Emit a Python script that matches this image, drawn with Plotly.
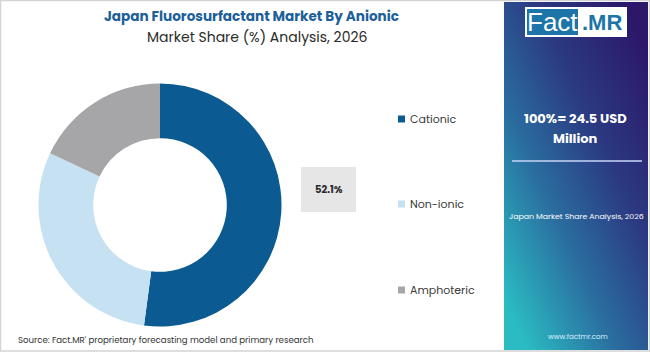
import base64
import plotly.graph_objects as go

W, H = 650, 353

categories = ["Cationic", "Non-ionic", "Amphoteric"]
shares = [52.1, 29.9, 18.0]
colors = ["#0b5a91", "#c5e1f2", "#a6a6a8"]

title_text = "Japan Fluorosurfactant Market By Anionic"
subtitle_text = "Market Share (%) Analysis, 2026"
total_text = ["100%= 24.5 USD", "Million"]
panel_caption = "Japan Market Share Analysis, 2026"
source_text = "Source: Fact.MR' proprietary forecasting model and primary research"
site_text = "www.factmr.com"


def px(x):
    return x / W


def py(y):
    return 1 - y / H


FONT = "Poppins, Inter, Open Sans, sans-serif"

fig = go.Figure()

# donut
cx, cy, r = 160, 205, 121.5
fig.add_trace(go.Pie(
    labels=categories,
    values=shares,
    marker=dict(colors=colors, line=dict(width=0)),
    hole=0.55,
    sort=False,
    direction="clockwise",
    rotation=0,
    textinfo="none",
    hoverinfo="label+percent",
    showlegend=False,
    domain=dict(x=[px(cx - r), px(cx + r)], y=[py(cy + r), py(cy - r)]),
))

shapes = []
annotations = []

# gradient side panel (svg data uri)
svg = (
    '<svg xmlns="http://www.w3.org/2000/svg" width="144" height="350" preserveAspectRatio="none" viewBox="0 0 144 350">'
    '<defs><linearGradient id="g" x1="0.9" y1="0.05" x2="0.1" y2="0.95">'
    '<stop offset="0" stop-color="#2c176a"/>'
    '<stop offset="0.35" stop-color="#2b3a82"/>'
    '<stop offset="0.65" stop-color="#2a6d9f"/>'
    '<stop offset="1" stop-color="#2bbcc3"/>'
    '</linearGradient></defs>'
    '<rect width="144" height="350" fill="url(#g)"/></svg>'
)
uri = "data:image/svg+xml;base64," + base64.b64encode(svg.encode()).decode()
panel_x0, panel_x1, panel_y0, panel_y1 = 504, 648, 2, 350
fig.add_layout_image(dict(
    source=uri, xref="paper", yref="paper",
    x=px(panel_x0), y=py(panel_y0),
    sizex=px(panel_x1) - px(panel_x0), sizey=py(panel_y0) - py(panel_y1),
    xanchor="left", yanchor="top", sizing="stretch", layer="below",
))

# logo
shapes.append(dict(type="rect", xref="paper", yref="paper",
                   x0=px(525), x1=px(627), y0=py(37), y1=py(7),
                   fillcolor="white", line=dict(width=0)))
shapes.append(dict(type="rect", xref="paper", yref="paper",
                   x0=px(527), x1=px(578), y0=py(35), y1=py(9),
                   fillcolor="#1c74a8", line=dict(width=0)))
LOGO_FONT = "Liberation Sans, Arial, sans-serif"
annotations.append(dict(text="Fact", x=px(552.5), y=py(22.5), xref="paper", yref="paper",
                        showarrow=False, xanchor="center", yanchor="middle",
                        font=dict(family=LOGO_FONT, size=26, color="white")))
annotations.append(dict(text="<b>.MR</b>", x=px(602), y=py(22.5), xref="paper", yref="paper",
                        showarrow=False, xanchor="center", yanchor="middle",
                        font=dict(family=LOGO_FONT, size=22, color="#1c74a8")))

# total text in panel
annotations.append(dict(text="<b>" + total_text[0] + "</b>", x=px(575), y=py(118),
                        xref="paper", yref="paper", showarrow=False,
                        xanchor="center", yanchor="middle",
                        font=dict(family=FONT, size=13, color="white")))
annotations.append(dict(text="<b>" + total_text[1] + "</b>", x=px(575), y=py(139),
                        xref="paper", yref="paper", showarrow=False,
                        xanchor="center", yanchor="middle",
                        font=dict(family=FONT, size=13, color="white")))
shapes.append(dict(type="line", xref="paper", yref="paper",
                   x0=px(512), x1=px(642), y0=py(161), y1=py(161),
                   line=dict(color="rgba(190,205,240,0.8)", width=2)))
annotations.append(dict(text=panel_caption, x=px(576), y=py(216),
                        xref="paper", yref="paper", showarrow=False,
                        xanchor="center", yanchor="middle",
                        font=dict(family=FONT, size=7.8, color="white")))
annotations.append(dict(text=site_text, x=px(578), y=py(336),
                        xref="paper", yref="paper", showarrow=False,
                        xanchor="center", yanchor="middle",
                        font=dict(family=FONT, size=7, color="#d8f0ff")))

# titles
annotations.append(dict(text="<b>" + title_text + "</b>", x=px(252), y=py(16),
                        xref="paper", yref="paper", showarrow=False,
                        xanchor="center", yanchor="middle",
                        font=dict(family=FONT, size=13.6, color="#1d5f98")))
annotations.append(dict(text=subtitle_text, x=px(257), y=py(37),
                        xref="paper", yref="paper", showarrow=False,
                        xanchor="center", yanchor="middle",
                        font=dict(family=FONT, size=14, color="#2b2b2b")))

# legend
legend_y = [119, 204, 290]
for cat, col, ly in zip(categories, colors, legend_y):
    shapes.append(dict(type="rect", xref="paper", yref="paper",
                       x0=px(398), x1=px(405), y0=py(ly + 3.5), y1=py(ly - 3.5),
                       fillcolor=col, line=dict(width=0)))
    annotations.append(dict(text=cat, x=px(408), y=py(ly), xref="paper", yref="paper",
                            showarrow=False, xanchor="left", yanchor="middle",
                            font=dict(family=FONT, size=11, color="#3a3a3a")))

# highlighted share box
shapes.append(dict(type="rect", xref="paper", yref="paper",
                   x0=px(301), x1=px(356), y0=py(212), y1=py(167),
                   fillcolor="#e6e6e6", line=dict(width=0)))
annotations.append(dict(text="<b>%.1f%%</b>" % shares[0], x=px(328.5), y=py(190),
                        xref="paper", yref="paper", showarrow=False,
                        xanchor="center", yanchor="middle",
                        font=dict(family=FONT, size=10, color="#2b2b2b")))

# source
annotations.append(dict(text=source_text, x=px(16), y=py(340),
                        xref="paper", yref="paper", showarrow=False,
                        xanchor="left", yanchor="middle",
                        font=dict(family=FONT, size=8.6, color="#333333")))

# outer border
shapes.append(dict(type="rect", xref="paper", yref="paper",
                   x0=px(0.5), x1=px(649.5), y0=py(351), y1=py(0.5),
                   fillcolor="rgba(0,0,0,0)", line=dict(color="#d4d4d4", width=1.5)))

fig.update_layout(
    width=W, height=H,
    margin=dict(l=0, r=0, t=0, b=0),
    paper_bgcolor="white",
    plot_bgcolor="white",
    shapes=shapes,
    annotations=annotations,
    showlegend=False,
)

fig.write_html("out.html")
